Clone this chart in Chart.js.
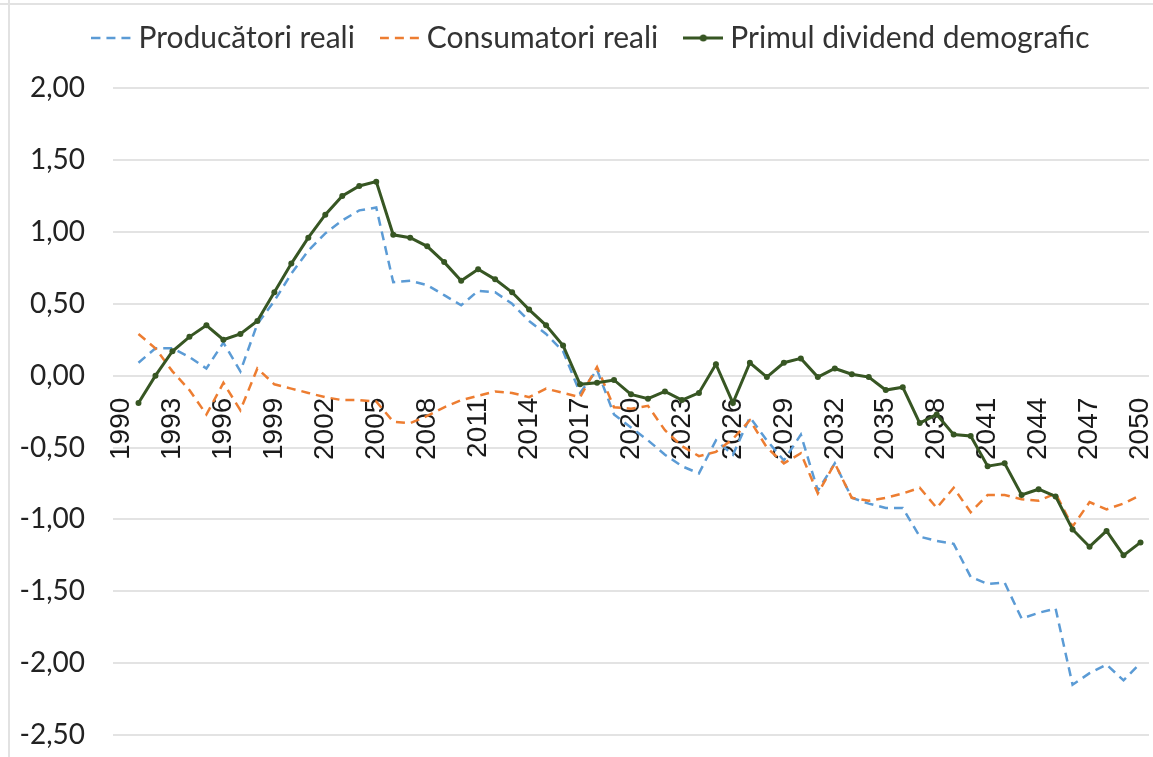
<!DOCTYPE html>
<html lang="ro">
<head>
    <meta charset="UTF-8">
    <title>Primul dividend demografic</title>
    <script src="https://cdn.jsdelivr.net/npm/chart.js"></script>
    <style>
        body { margin: 0; background-color: #fff; }
        .frame { position: relative; width: 1153px; height: 757px; overflow: hidden; }
        .edge-top { position: absolute; left: 0; top: 3px; width: 1153px; height: 2px; background-color: #e2e2e2; }
        .edge-left { position: absolute; left: 8px; top: 0; width: 2px; height: 757px; background-color: #e2e2e2; }
        .chart { position: absolute; left: 0; top: 0; width: 1153px; height: 757px; }
    </style>
</head>
<body>
    <div class="frame">
        <div class="edge-top"></div>
        <div class="edge-left"></div>
        <div class="chart"><canvas id="dividendChart"></canvas></div>
    </div>

    <script>
        const years = ['1990', '1991', '1992', '1993', '1994', '1995', '1996', '1997', '1998', '1999',
            '2000', '2001', '2002', '2003', '2004', '2005', '2006', '2007', '2008', '2009',
            '2010', '2011', '2012', '2013', '2014', '2015', '2016', '2017', '2018', '2019',
            '2020', '2021', '2022', '2023', '2024', '2025', '2026', '2027', '2028', '2029',
            '2030', '2031', '2032', '2033', '2034', '2035', '2036', '2037', '2038', '2039',
            '2040', '2041', '2042', '2043', '2044', '2045', '2046', '2047', '2048', '2049', '2050'];

        // Producători reali
        const producatori = [null, 0.09, 0.19, 0.19, 0.13, 0.05, 0.23, 0.03, 0.36, 0.52,
            0.71, 0.87, 0.99, 1.08, 1.15, 1.17, 0.65, 0.66, 0.63, 0.56,
            0.49, 0.59, 0.58, 0.50, 0.38, 0.29, 0.17, -0.12, 0.04, -0.27,
            -0.36, -0.45, -0.55, -0.63, -0.68, -0.45, -0.55, -0.29, -0.45, -0.59,
            -0.41, -0.80, -0.61, -0.85, -0.89, -0.92, -0.92, -1.12, -1.15, -1.17,
            -1.40, -1.45, -1.44, -1.69, -1.65, -1.62, -2.15, -2.07, -2.01, -2.12, -2.00];

        // Consumatori reali
        const consumatori = [null, 0.29, 0.19, 0.03, -0.10, -0.27, -0.05, -0.24, 0.05, -0.06,
            -0.09, -0.12, -0.15, -0.17, -0.17, -0.18, -0.32, -0.33, -0.28, -0.22,
            -0.17, -0.14, -0.11, -0.12, -0.15, -0.09, -0.12, -0.15, 0.06, -0.22,
            -0.23, -0.21, -0.38, -0.49, -0.56, -0.53, -0.44, -0.31, -0.50, -0.61,
            -0.54, -0.82, -0.61, -0.85, -0.87, -0.85, -0.82, -0.78, -0.92, -0.78,
            -0.95, -0.83, -0.83, -0.86, -0.87, -0.82, -1.05, -0.88, -0.93, -0.89, -0.83];

        // Primul dividend demografic
        const dividend = [null, -0.19, 0.00, 0.17, 0.27, 0.35, 0.25, 0.29, 0.38, 0.58,
            0.78, 0.96, 1.12, 1.25, 1.32, 1.35, 0.98, 0.96, 0.90, 0.79,
            0.66, 0.74, 0.67, 0.58, 0.46, 0.35, 0.21, -0.06, -0.05, -0.03,
            -0.13, -0.16, -0.11, -0.17, -0.12, 0.08, -0.19, 0.09, -0.01, 0.09,
            0.12, -0.01, 0.05, 0.01, -0.01, -0.10, -0.08, -0.33, -0.27, -0.41,
            -0.42, -0.63, -0.61, -0.83, -0.79, -0.84, -1.07, -1.19, -1.08, -1.25, -1.16];

        const seriesNames = ['Producători reali', 'Consumatori reali', 'Primul dividend demografic'];
        const seriesColors = ['#5b9bd5', '#ed7d31', '#375623'];

        // small legend symbols: dashed line, or line with a dot
        function makeSwatch(color, dashed, dot) {
            const c = document.createElement('canvas');
            c.width = 40;
            c.height = 14;
            const g = c.getContext('2d');
            g.strokeStyle = color;
            g.lineWidth = dashed ? 2.5 : 3;
            if (dashed) g.setLineDash([9, 6]);
            g.beginPath();
            g.moveTo(0, 7);
            g.lineTo(40, 7);
            g.stroke();
            if (dot) {
                g.fillStyle = color;
                g.beginPath();
                g.arc(20, 7, 3.5, 0, Math.PI * 2);
                g.fill();
            }
            return c;
        }
        const swatches = [
            makeSwatch(seriesColors[0], true, false),
            makeSwatch(seriesColors[1], true, false),
            makeSwatch(seriesColors[2], false, true)
        ];

        // the legend sits a little right of centre in the original
        const legendShift = {
            id: 'legendShift',
            afterLayout(chart) {
                chart.legend.left += 18;
                chart.legend.right += 18;
            }
        };

        const ctx = document.getElementById('dividendChart').getContext('2d');
        new Chart(ctx, {
            type: 'line',
            plugins: [legendShift],
            data: {
                labels: years,
                datasets: [{
                    label: seriesNames[0],
                    data: producatori,
                    borderColor: seriesColors[0],
                    borderWidth: 2.5,
                    borderDash: [9, 6],
                    pointRadius: 0,
                    order: 2
                }, {
                    label: seriesNames[1],
                    data: consumatori,
                    borderColor: seriesColors[1],
                    borderWidth: 2.5,
                    borderDash: [9, 6],
                    pointRadius: 0,
                    order: 1
                }, {
                    label: seriesNames[2],
                    data: dividend,
                    borderColor: seriesColors[2],
                    backgroundColor: seriesColors[2],
                    borderWidth: 3,
                    pointRadius: 3,
                    pointBorderWidth: 0,
                    pointBackgroundColor: seriesColors[2],
                    order: 0
                }]
            },
            options: {
                responsive: true,
                maintainAspectRatio: false,
                animation: false,
                layout: { padding: { left: 0, right: 0, top: -10, bottom: 22 } },
                plugins: {
                    tooltip: { enabled: false },
                    // empty title used as a spacer between legend and plot
                    title: {
                        display: true,
                        text: '',
                        weight: 500,
                        font: { size: 1 },
                        padding: { top: 0, bottom: 24 }
                    },
                    legend: {
                        position: 'top',
                        labels: {
                            usePointStyle: true,
                            pointStyleWidth: 24,
                            padding: 33,
                            color: '#333',
                            font: { family: 'Lato', size: 30 },
                            sort: (a, b) => a.datasetIndex - b.datasetIndex,
                            generateLabels: (chart) => {
                                const items = Chart.defaults.plugins.legend.labels.generateLabels(chart);
                                items.forEach(item => { item.pointStyle = swatches[item.datasetIndex]; });
                                return items;
                            }
                        }
                    }
                },
                scales: {
                    x: {
                        type: 'category',
                        offset: true,
                        position: { y: 0 },
                        grid: { display: false, drawTicks: false },
                        border: { display: false },
                        ticks: {
                            autoSkip: false,
                            minRotation: 90,
                            maxRotation: 90,
                            padding: 22,
                            color: '#1a1a1a',
                            font: { family: 'Liberation Sans', size: 28 },
                            callback: (value, index) => index % 3 === 0 ? years[index] : ''
                        },
                        afterFit: (scale) => {
                            scale.height = 0;
                            scale.paddingLeft = 0;
                            scale.paddingRight = 0;
                        }
                    },
                    y: {
                        min: -2.5,
                        max: 2,
                        grid: { color: '#e3e3e3', lineWidth: 2, drawTicks: false },
                        border: { display: false },
                        ticks: {
                            stepSize: 0.5,
                            padding: 28,
                            color: '#222',
                            font: { family: 'Lato', size: 28 },
                            callback: (value) => value.toFixed(2).replace('.', ',')
                        },
                        afterFit: (scale) => {
                            scale.width = 113;
                            scale.paddingTop = 0;
                            scale.paddingBottom = 0;
                        }
                    }
                }
            }
        });
    </script>
</body>
</html>
